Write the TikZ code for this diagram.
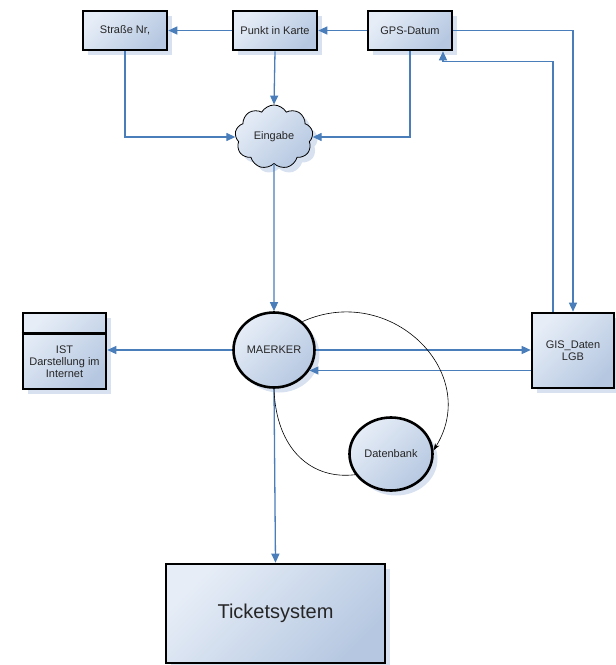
\documentclass[tikz,border=0pt]{standalone}
\usepackage{fontspec}
\setmainfont{Liberation Sans}
\usetikzlibrary{arrows.meta,shapes.geometric,shapes.symbols,shadows,calc}
\definecolor{flowblue}{HTML}{4A7EBB}
\definecolor{fillA}{HTML}{E6EDF7}
\definecolor{fillB}{HTML}{B6C8E1}
\definecolor{shadowblue}{HTML}{D7E1F0}
\definecolor{txt}{HTML}{262626}
\tikzset{
  sh/.style={drop shadow={shadow xshift=5pt,shadow yshift=-5pt,fill=shadowblue,draw=none,opacity=1}},
  grad/.style={left color=fillA,right color=fillB,shading angle=45},
  procbox/.style={draw=black,line width=2.6pt,grad,sh,text=txt,align=center,inner sep=0pt,
    font=\fontsize{11}{12.5}\selectfont},
  proccirc/.style={ellipse,draw=black,line width=2.6pt,grad,sh,text=txt,inner sep=0pt,
    font=\fontsize{11}{12.5}\selectfont},
  flow/.style={draw=flowblue,line width=1.3pt,-{Triangle[length=9pt,width=8pt]}},
  loopline/.style={draw=black,line width=0.6pt},
}
\begin{document}
\begin{tikzpicture}[x=1pt,y=-1pt]
\useasboundingbox (0,0) rectangle (616,665);
% top boxes
\node[procbox,minimum width=84pt,minimum height=39pt] (S) at (125,30.5) {Straße Nr,};
\node[procbox,minimum width=84pt,minimum height=39pt] (P) at (275,30.5) {Punkt in Karte};
\node[procbox,minimum width=84pt,minimum height=39pt] (G) at (410,30.5) {GPS-Datum};
% cloud
\node[cloud,cloud puffs=9,cloud puff arc=120,aspect=1.2,draw=black,line width=0.8pt,grad,sh,
  minimum width=78pt,minimum height=64pt,inner sep=0pt,text=txt,font=\fontsize{11}{12.5}\selectfont]
  (E) at (274,137) {Eingabe};
% middle
\node[proccirc,minimum width=81pt,minimum height=75pt] (M) at (274,350) {MAERKER};
\node[procbox,minimum width=82pt,minimum height=75pt] (GIS) at (573,350.5) {GIS\_Daten\\LGB};
\node[procbox,minimum width=83pt,minimum height=76pt] (IST) at (64.5,351) {};
\draw[line width=2.6pt] ([yshift=-22pt]IST.north west) -- ([yshift=-22pt]IST.north east);
\node[text=txt,align=center,font=\fontsize{11}{12}\selectfont] (ISTt) at (64.5,361.5) {IST\\Darstellung im\\Internet};
\node[proccirc,minimum width=83pt,minimum height=73pt] (D) at (391,454) {Datenbank};
% ticket
\node[procbox,minimum width=219pt,minimum height=99pt,font=\fontsize{20}{24}\selectfont] (T) at (275.5,613.5) {Ticketsystem};
% connectors top
\draw[flow] (P.west) -- (S.east);
\draw[flow] (G.west) -- (P.east);
\draw[flow] (S.south) |- (E.west);
\draw[flow] (P.south) -- (E.north);
\draw[flow] (G.south) |- (E.east);
\draw[flow] (E.south) -- (M.north);
\draw[flow] (G.east) -| (GIS.north);
\draw[flow] ([xshift=-20pt]GIS.north) |- ([xshift=33pt,yshift=-10pt]G.south) -- ([xshift=33pt]G.south);
% middle connectors
\draw[flow] (M.east) -- (M.east -| GIS.west);
\draw[flow] (GIS.west |- M.-30) -- (M.-30);
\draw[flow] (M.west) -- (M.west -| IST.east);
\draw[flow] (M.south) -- (T.north);
% loop
\draw[loopline,-{Stealth[length=7pt,width=5pt]}] (M.45) .. controls (390,282) and (482,372) .. (D.5);
\draw[loopline] (D.210) .. controls (312,480) and (276,450) .. (M.south);
\end{tikzpicture}
\end{document}
